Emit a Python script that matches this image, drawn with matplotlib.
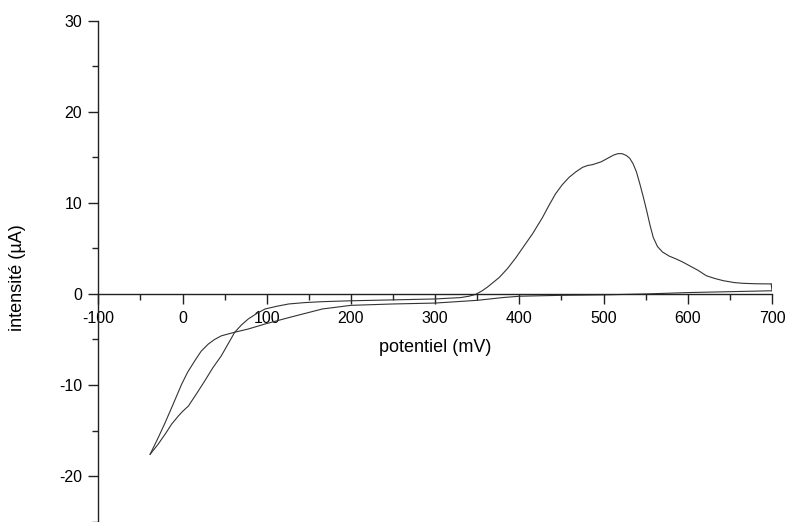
import matplotlib
matplotlib.use('Agg')
import matplotlib.pyplot as plt
from matplotlib.ticker import MultipleLocator

plt.rcParams['font.family'] = ['Liberation Sans', 'DejaVu Sans']
plt.rcParams['axes.unicode_minus'] = False

# cathodic scan, 700 mV -> -38 mV
e_cath = [700, 650, 600, 550, 500, 450, 400, 380, 350, 300, 250, 200, 166, 126, 98, 78, 62, 46, 38, 30.6, 22, 14.8, 6, -1, -7, -13, -21, -29, -38.5]
i_cath = [0.35, 0.25, 0.15, 0.0, -0.1, -0.15, -0.25, -0.4, -0.7, -1.0, -1.1, -1.25, -1.65, -2.6, -3.3, -3.85, -4.2, -4.6, -5.0, -5.5, -6.3, -7.3, -8.6, -9.9, -11.2, -12.5, -14.2, -15.8, -17.6]

# anodic scan, -38 mV -> 700 mV
e_anod = [-38.5, -29, -20, -13, -5, 0, 7, 17, 26.7, 36, 46, 54, 62, 70, 78, 88, 98, 112, 126, 145, 165, 200, 250, 300, 330, 340, 348, 356, 362, 368, 376, 386, 396, 405, 415.6, 427.5, 435, 443, 451, 459, 467, 475, 481, 487, 497, 507, 512, 517, 522, 527, 531, 535, 539, 543, 547, 551, 555, 559, 564, 570, 578, 586, 594, 602, 612, 622, 632, 642, 655, 665, 680, 699]
i_anod = [-17.6, -16.5, -15.3, -14.3, -13.4, -12.9, -12.3, -10.9, -9.5, -8.1, -6.8, -5.5, -4.2, -3.4, -2.75, -2.15, -1.65, -1.35, -1.1, -0.95, -0.85, -0.75, -0.65, -0.55, -0.4, -0.25, -0.05, 0.36, 0.75, 1.2, 1.8, 2.8, 4.0, 5.2, 6.6, 8.4, 9.7, 11.0, 12.0, 12.8, 13.4, 13.9, 14.1, 14.2, 14.5, 15.0, 15.25, 15.4, 15.4, 15.2, 14.9, 14.3, 13.4, 12.1, 10.7, 9.2, 7.6, 6.2, 5.2, 4.6, 4.15, 3.85, 3.5, 3.1, 2.6, 2.0, 1.7, 1.46, 1.25, 1.17, 1.12, 1.1]

fig = plt.figure(figsize=(7.91, 5.22), dpi=100)
ax = fig.add_axes([0.1243, 0.0006, 0.8517, 0.9598])

ax.plot(e_cath, i_cath, color='#333333', lw=0.8)
ax.plot(e_anod, i_anod, color='#333333', lw=0.8)
ax.plot([e_anod[-1], e_cath[0]], [i_anod[-1], i_cath[0]], color='#333333', lw=0.8)

ax.set_xlim(-100, 700)
ax.set_ylim(-25, 30)

ax.spines['top'].set_visible(False)
ax.spines['right'].set_visible(False)
ax.spines['bottom'].set_position(('data', 0))
for s in ['left', 'bottom']:
    ax.spines[s].set_linewidth(1.0)
    ax.spines[s].set_color('#222222')

ax.xaxis.set_major_locator(MultipleLocator(100))
ax.xaxis.set_minor_locator(MultipleLocator(50))
ax.yaxis.set_major_locator(MultipleLocator(10))
ax.yaxis.set_minor_locator(MultipleLocator(5))
ax.tick_params(which='major', direction='out', length=7.5, width=1.0, labelsize=11.5, color='#222222')
ax.tick_params(which='minor', direction='out', length=4, width=1.0, color='#222222')
ax.tick_params(axis='x', which='major', pad=5)
ax.tick_params(axis='y', which='major', pad=4)

ax.text(300, -5.9, 'potentiel (mV)', ha='center', va='center', fontsize=13)
fig.text(18 / 791, 1 - 277.5 / 522, 'intensité (µA)', rotation=90, ha='center', va='center', fontsize=13)

fig.savefig('out.png', dpi=100)
